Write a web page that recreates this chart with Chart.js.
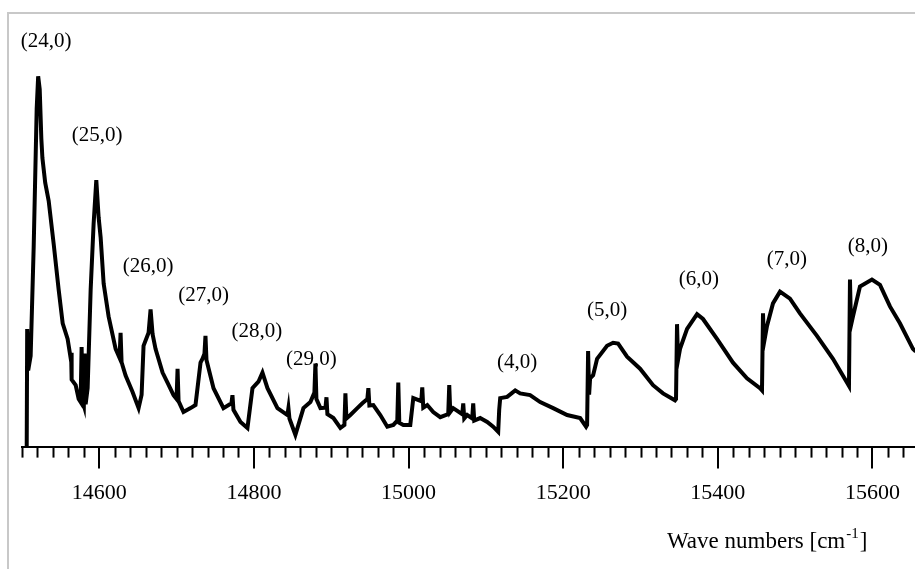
<!DOCTYPE html>
<html>
<head>
<meta charset="utf-8">
<script src="https://cdn.jsdelivr.net/npm/chart.js@4.4.1/dist/chart.umd.min.js"></script>
<style>
  html, body { margin: 0; padding: 0; background: #fff; }
  #wrap { width: 915px; height: 569px; }
</style>
</head>
<body>
<div id="wrap"><canvas id="spectrum" width="915" height="569"></canvas></div>
<script>
// spectrum trace (intensity in arbitrary units)
const waveNumbers = [
  14506.1, 14506.7, 14508.0, 14511.2, 14515.1, 14519.0, 14520.9, 14522.9, 14525.0, 14526.4,
  14530.0, 14534.5, 14541.0, 14547.4, 14552.6, 14559.0, 14562.9, 14563.5, 14564.2, 14569.4,
  14573.3, 14575.8, 14577.1, 14578.4, 14580.0, 14581.0, 14582.3, 14584.9, 14588.8, 14592.6,
  14596.1, 14599.1, 14601.7, 14605.6, 14612.0, 14621.1, 14626.2, 14627.5, 14628.8, 14634.0,
  14643.0, 14650.8, 14654.7, 14657.2, 14663.7, 14666.3, 14668.9, 14672.7, 14681.8, 14688.2,
  14696.0, 14699.9, 14701.2, 14702.5, 14708.9, 14718.0, 14724.4, 14730.9, 14733.5, 14736.0,
  14737.3, 14738.6, 14747.7, 14760.6, 14770.9, 14772.2, 14773.5, 14782.6, 14791.6, 14798.1,
  14805.8, 14811.0, 14817.5, 14830.4, 14843.3, 14844.6, 14845.9, 14853.6, 14864.0, 14873.0,
  14878.2, 14879.5, 14880.8, 14886.0, 14892.5, 14893.8, 14895.0, 14902.8, 14911.8, 14917.0,
  14918.3, 14919.6, 14924.7, 14933.7, 14940.2, 14946.7, 14948.0, 14949.3, 14954.4, 14963.4,
  14972.5, 14980.3, 14985.4, 14986.7, 14988.0, 14993.2, 15002.2, 15006.1, 15016.4, 15017.7,
  15019.0, 15024.2, 15031.9, 15041.0, 15051.3, 15052.6, 15053.9, 15057.7, 15069.4, 15070.7,
  15072.0, 15075.8, 15082.3, 15083.6, 15084.9, 15092.6, 15101.7, 15109.4, 15115.9, 15117.2,
  15118.5, 15127.5, 15137.9, 15144.3, 15157.2, 15170.2, 15187.0, 15205.1, 15221.9, 15229.6,
  15230.9, 15232.2, 15233.5, 15234.8, 15238.7, 15243.8, 15256.7, 15264.5, 15271.0, 15282.6,
  15299.4, 15316.2, 15329.1, 15344.6, 15345.9, 15347.2, 15348.5, 15351.1, 15360.2, 15373.1,
  15380.8, 15398.9, 15419.6, 15437.7, 15454.5, 15457.1, 15458.4, 15459.7, 15463.6, 15471.3,
  15480.4, 15493.3, 15506.2, 15528.2, 15548.9, 15567.0, 15569.6, 15570.9, 15572.2, 15574.8,
  15583.8, 15599.3, 15609.7, 15622.6, 15635.5, 15652.3, 15656.0
];
const intensity = [
  0, 27.2, 17.6, 21.0, 46.1, 78.1, 85.6, 82.6, 71.2, 66.7,
  61.0, 56.8, 46.8, 36.3, 28.5, 24.9, 20.5, 21.7, 15.5, 14.2,
  11.0, 10.3, 23.0, 10.5, 9.5, 21.5, 9.8, 13.5, 36.3, 51.4,
  61.6, 53.0, 48.4, 37.7, 30.1, 22.6, 20.5, 26.3, 19.5, 16.4,
  12.6, 8.9, 12.0, 23.3, 26.3, 31.7, 26.0, 22.6, 17.1, 14.8,
  11.9, 11.0, 18.0, 10.5, 8.0, 8.9, 9.6, 19.4, 20.3, 21.5,
  25.6, 20.0, 13.5, 8.9, 10.0, 11.9, 8.5, 5.7, 4.3, 13.5,
  15.0, 17.1, 13.5, 8.9, 7.3, 8.9, 6.5, 2.7, 8.9, 10.3,
  12.5, 19.2, 11.0, 8.9, 9.0, 11.4, 7.5, 6.6, 4.3, 5.0,
  12.3, 6.5, 7.3, 8.9, 10.0, 11.0, 13.5, 9.5, 9.6, 7.3,
  4.6, 5.0, 6.0, 14.8, 5.5, 5.0, 5.0, 11.2, 10.5, 13.7,
  9.0, 9.6, 8.0, 6.8, 7.5, 14.2, 8.0, 8.9, 7.5, 10.0,
  6.5, 7.3, 6.5, 10.0, 6.0, 6.6, 5.7, 4.6, 3.4, 8.5,
  11.2, 11.5, 13.0, 12.3, 11.9, 10.3, 8.9, 7.3, 6.6, 4.6,
  5.0, 22.1, 12.0, 15.8, 16.5, 20.3, 23.3, 24.0, 23.8, 20.8,
  18.0, 14.2, 12.3, 10.7, 11.0, 28.3, 20.0, 22.6, 27.2, 30.6,
  29.5, 24.9, 19.4, 15.8, 13.5, 13.0, 30.8, 24.0, 27.9, 33.1,
  35.8, 34.2, 30.8, 25.6, 20.3, 14.8, 14.0, 38.6, 28.0, 30.1,
  37.0, 38.6, 37.4, 32.4, 28.5, 22.6, 22.0
];

// band labels and where they sit (wave number, intensity)
const bandNames = ['(24,0)', '(25,0)', '(26,0)', '(27,0)', '(28,0)', '(29,0)', '(4,0)', '(5,0)', '(6,0)', '(7,0)', '(8,0)'];
const bandX = [14531.3, 14597.2, 14663.0, 14734.8, 14803.9, 14874.3, 15140.4, 15256.7, 15375.6, 15489.3, 15593.9];
const bandY = [93.6, 71.9, 41.6, 34.9, 26.7, 20.1, 19.4, 31.5, 38.6, 43.2, 46.3];

const xMin = 14500;
const xMax = 15655;
const serif = '"Liberation Serif", "Times New Roman", serif';

const points = waveNumbers.map((w, i) => ({ x: w, y: intensity[i] }));

// grey frame, minor ticks, band labels, axis title
const decor = {
  id: 'decor',
  beforeDraw(chart) {
    const c = chart.ctx;
    c.save();
    c.strokeStyle = '#c8c8c8';
    c.lineWidth = 2;
    c.beginPath();
    c.moveTo(8, chart.height);
    c.lineTo(8, 13);
    c.lineTo(chart.width, 13);
    c.stroke();
    c.restore();
  },
  afterDraw(chart) {
    const c = chart.ctx;
    const xs = chart.scales.x;
    const ys = chart.scales.y;
    const base = chart.chartArea.bottom;
    c.save();
    c.strokeStyle = '#000';
    c.lineWidth = 2;
    xs.ticks.forEach(t => {
      if (Math.round(t.value) % 200 === 0) return;
      const px = Math.round(xs.getPixelForValue(t.value)) + 0.5;
      c.beginPath();
      c.moveTo(px, base);
      c.lineTo(px, base + 11);
      c.stroke();
    });

    c.fillStyle = '#000';
    c.font = '21px ' + serif;
    c.textAlign = 'center';
    c.textBaseline = 'middle';
    bandNames.forEach((name, i) => {
      c.fillText(name, xs.getPixelForValue(bandX[i]), ys.getPixelForValue(bandY[i]));
    });

    // x axis title with superscript
    c.textAlign = 'left';
    c.textBaseline = 'alphabetic';
    let tx = 667;
    const ty = 548;
    c.font = '23px ' + serif;
    c.fillText('Wave numbers [cm', tx, ty);
    tx += c.measureText('Wave numbers [cm').width + 1;
    c.font = '15px ' + serif;
    c.fillText('-1', tx, ty - 10);
    tx += c.measureText('-1').width + 1;
    c.font = '23px ' + serif;
    c.fillText(']', tx, ty);
    c.restore();
  }
};

new Chart(document.getElementById('spectrum'), {
  type: 'line',
  data: {
    datasets: [{
      data: points,
      borderColor: '#000',
      borderWidth: 4,
      pointRadius: 0,
      tension: 0,
      fill: false
    }]
  },
  options: {
    responsive: false,
    animation: false,
    layout: { padding: { left: 22, right: 0, top: 14, bottom: 52 } },
    plugins: { legend: { display: false }, tooltip: { enabled: false } },
    scales: {
      x: {
        type: 'linear',
        min: xMin,
        max: xMax,
        border: { display: true, color: '#000', width: 2 },
        grid: {
          drawOnChartArea: false,
          drawTicks: true,
          tickLength: 22,
          lineWidth: 2,
          tickColor: ctx => (Math.round(ctx.tick.value) % 200 === 0 ? '#000' : 'rgba(0,0,0,0)')
        },
        ticks: {
          stepSize: 20,
          autoSkip: false,
          includeBounds: false,
          maxRotation: 0,
          padding: 11,
          color: '#000',
          font: { family: serif, size: 22 },
          callback: v => (Math.round(v) % 200 === 0 ? String(Math.round(v)) : '')
        }
      },
      y: {
        display: false,
        min: 0,
        max: 100
      }
    }
  },
  plugins: [decor]
});
</script>
</body>
</html>
